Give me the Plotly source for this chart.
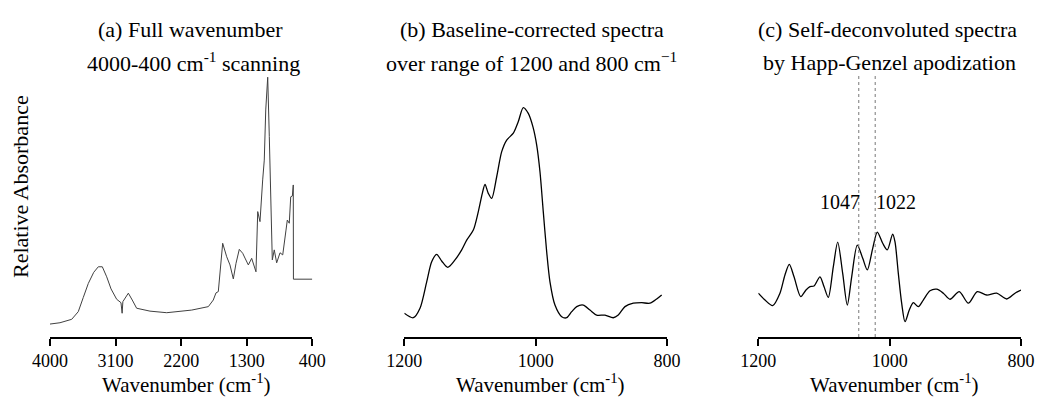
import plotly.graph_objects as go

W, H = 1037, 398

# ---------------- Data ----------------
# (a) Full wavenumber scan
wn_a = [4000, 3863, 3702, 3640, 3612, 3543, 3474, 3400, 3337, 3282, 3222, 3162, 3085, 3026, 3010, 3000,
        2925, 2871, 2811, 2628, 2398, 2055, 1827, 1759, 1722, 1690, 1630, 1575, 1530, 1484,
        1447, 1402, 1355, 1324, 1278, 1232, 1173, 1149, 1118, 1081, 1059, 1039, 1012,
        990, 971, 949, 922, 889, 843, 806, 761, 743, 716, 696, 674, 661, 659, 400]
abs_a = [0.049, 0.054, 0.067, 0.085, 0.096, 0.150, 0.203, 0.245, 0.266, 0.266, 0.228, 0.182, 0.143, 0.130, 0.090, 0.134,
         0.166, 0.140, 0.109, 0.098, 0.092, 0.102, 0.115, 0.140, 0.167, 0.172, 0.355, 0.304, 0.273, 0.220,
         0.279, 0.332, 0.317, 0.299, 0.273, 0.298, 0.247, 0.475, 0.437, 0.595, 0.670, 0.860, 0.984,
         0.759, 0.481, 0.292, 0.330, 0.281, 0.319, 0.311, 0.405, 0.443, 0.431, 0.531, 0.534, 0.576, 0.219, 0.219]

# (b) Baseline-corrected spectrum 1200-800
wn_b = [1200, 1186.3, 1176.1, 1165.9, 1158.3, 1150.7, 1143.1, 1133.9, 1122.8, 1112.6, 1105.0,
        1094.9, 1087.3, 1081.2, 1077.1, 1072.1, 1066.9, 1059.3, 1051.7, 1044.1, 1034.0, 1026.4,
        1018.8, 1011.2, 1004.0, 998.4, 993.4, 988.4, 983.2, 978.2, 970.6, 960.3, 952.7, 945.1,
        937.5, 927.5, 917.3, 907.1, 894.4, 881.8, 874.2, 864.0, 851.3, 838.5, 826.0, 815.7, 808.1]
abs_b = [0.090, 0.073, 0.109, 0.209, 0.285, 0.313, 0.288, 0.264, 0.292, 0.330, 0.367,
         0.405, 0.475, 0.544, 0.578, 0.544, 0.525, 0.607, 0.702, 0.746, 0.772, 0.816,
         0.869, 0.847, 0.795, 0.727, 0.626, 0.475, 0.323, 0.209, 0.121, 0.077, 0.073, 0.096,
         0.115, 0.121, 0.102, 0.083, 0.083, 0.073, 0.083, 0.115, 0.128, 0.130, 0.128, 0.144, 0.159]

# (c) Self-deconvoluted spectrum (Happ-Genzel apodization)
wn_c = [1200, 1189.8, 1178.1, 1167.0, 1159.4, 1152.8, 1145.6, 1135.4, 1127.4, 1121.3, 1115.2,
        1106.1, 1100.0, 1093.4, 1085.8, 1079.1, 1071.5, 1064.5, 1057.8, 1049.3, 1041.0, 1034.0,
        1025.8, 1018.8, 1010.6, 1003.6, 995.4, 991.9, 986.8, 981.7, 976.6, 970.1, 964.0, 956.4,
        948.8, 938.6, 928.4, 918.3, 908.1, 894.0, 880.2, 866.5, 852.2, 837.0, 821.8, 809.1, 800]
abs_c = [0.166, 0.140, 0.119, 0.166, 0.235, 0.275, 0.228, 0.153, 0.178, 0.191, 0.193,
         0.228, 0.191, 0.150, 0.266, 0.359, 0.241, 0.121, 0.228, 0.348, 0.298, 0.254,
         0.336, 0.397, 0.355, 0.330, 0.390, 0.361, 0.241, 0.128, 0.058, 0.102, 0.130, 0.115,
         0.140, 0.175, 0.181, 0.166, 0.143, 0.172, 0.128, 0.172, 0.159, 0.166, 0.144, 0.166, 0.178]

marked_peaks = [1047, 1022]
ticks_a = [4000, 3100, 2200, 1300, 400]
ticks_bc = [1200, 1000, 800]

titles = [
    ("(a) Full wavenumber", "4000-400 cm<sup>-1</sup> scanning"),
    ("(b) Baseline-corrected spectra", "over range of 1200 and 800 cm<sup>\u22121</sup>"),
    ("(c) Self-deconvoluted spectra", "by Happ-Genzel apodization"),
]

# ---------------- Layout helpers ----------------
FONT = "Liberation Serif, Times New Roman, serif"
px_x = lambda p: p / W
px_y = lambda p: 1 - p / H

x_domains = [(50, 312.3), (404.3, 667), (758.3, 1021)]
y_dom = [px_y(337), px_y(73)]

fig = go.Figure()
fig.add_trace(go.Scatter(x=wn_a, y=abs_a, mode="lines", xaxis="x", yaxis="y",
                         line=dict(color="#404040", width=1), showlegend=False))
fig.add_trace(go.Scatter(x=wn_b, y=abs_b, mode="lines", xaxis="x2", yaxis="y2",
                         line=dict(color="black", width=1.3, shape="spline", smoothing=0.8),
                         showlegend=False))
fig.add_trace(go.Scatter(x=wn_c, y=abs_c, mode="lines", xaxis="x3", yaxis="y3",
                         line=dict(color="black", width=1.3, shape="spline", smoothing=0.8),
                         showlegend=False))

ranges = [[4000, 400], [1200, 800], [1200, 800]]
tickvals = [ticks_a, ticks_bc, ticks_bc]
for i in range(3):
    sfx = "" if i == 0 else str(i + 1)
    fig.layout["xaxis" + sfx] = dict(
        domain=[px_x(x_domains[i][0]), px_x(x_domains[i][1])],
        range=ranges[i], tickvals=tickvals[i], ticktext=[str(v) for v in tickvals[i]],
        showline=True, linecolor="black", linewidth=1.5,
        ticks="outside", ticklen=7, tickwidth=1.5, tickcolor="black",
        tickfont=dict(family=FONT, size=18, color="black"),
        showgrid=False, zeroline=False, anchor="y" + sfx, automargin=False,
    )
    fig.layout["yaxis" + sfx] = dict(
        domain=y_dom, range=[0, 1], visible=False, anchor="x" + sfx, automargin=False,
    )

annotations = []
title_centers = [(190, 193), (532, 531), (887, 889)]
for i, (l1, l2) in enumerate(titles):
    annotations.append(dict(text=l1, x=px_x(title_centers[i][0]), y=px_y(29), xref="paper", yref="paper",
                            xanchor="center", yanchor="middle", showarrow=False,
                            font=dict(family=FONT, size=22, color="black")))
    annotations.append(dict(text=l2, x=px_x(title_centers[i][1]), y=px_y(62), xref="paper", yref="paper",
                            xanchor="center", yanchor="middle", showarrow=False,
                            font=dict(family=FONT, size=22, color="black")))
    cx = (x_domains[i][0] + x_domains[i][1]) / 2
    annotations.append(dict(text="Wavenumber (cm<sup>-1</sup>)", x=px_x(cx + 5), y=px_y(383),
                            xref="paper", yref="paper", xanchor="center", yanchor="middle",
                            showarrow=False, font=dict(family=FONT, size=21, color="black")))

annotations.append(dict(text="Relative Absorbance", x=px_x(20), y=px_y(187), xref="paper", yref="paper",
                        xanchor="center", yanchor="middle", textangle=-90, showarrow=False,
                        font=dict(family=FONT, size=22, color="black")))

annotations.append(dict(text=str(marked_peaks[0]), x=marked_peaks[0], y=0.511, xref="x3", yref="y3",
                        xanchor="right", yanchor="middle", showarrow=False, xshift=3,
                        font=dict(family=FONT, size=20, color="black")))
annotations.append(dict(text=str(marked_peaks[1]), x=marked_peaks[1], y=0.511, xref="x3", yref="y3",
                        xanchor="left", yanchor="middle", showarrow=False, xshift=-1,
                        font=dict(family=FONT, size=20, color="black")))

shapes = [dict(type="line", xref="x3", yref="y3", x0=p, x1=p, y0=0, y1=1,
               line=dict(color="#777777", width=1, dash="dot")) for p in marked_peaks]

fig.update_layout(width=W, height=H, autosize=False,
                  margin=dict(l=0, r=0, t=0, b=0, pad=0, autoexpand=False),
                  paper_bgcolor="white", plot_bgcolor="white",
                  annotations=annotations, shapes=shapes)

fig.write_html("out.html")
